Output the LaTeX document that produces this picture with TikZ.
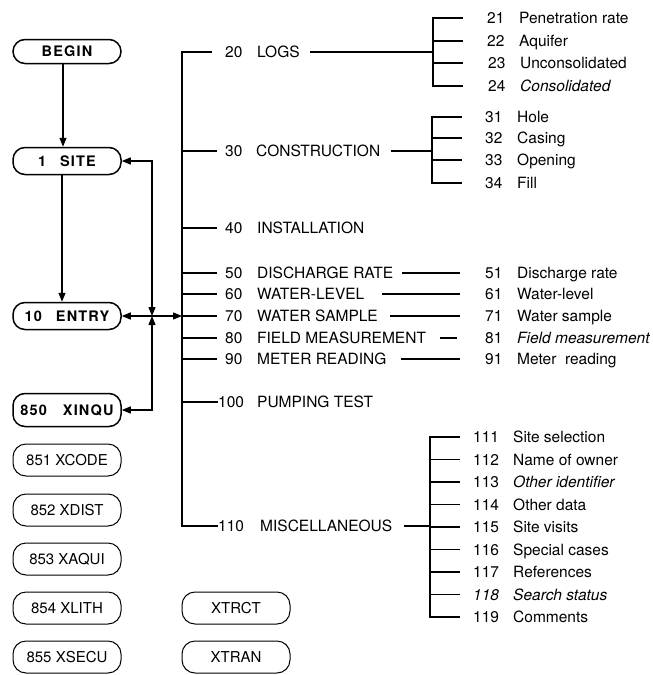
\documentclass[tikz,border=0pt]{standalone}
\usepackage{fontspec}
\setmainfont{TeX Gyre Heros}
\usetikzlibrary{arrows.meta}
\begin{document}
\begin{tikzpicture}[x=1pt,y=-1pt,
  >={Triangle[length=9pt,width=7pt]},
  txt/.style={font=\fontsize{15.5}{17}\selectfont, inner sep=0pt, anchor=west, text height=11pt, text depth=0pt},
  itx/.style={txt, font=\fontsize{15.5}{17}\selectfont\itshape},
  boxA/.style={draw, line width=1.5pt, rounded corners=12pt, minimum width=108pt, inner sep=0pt, font=\fontsize{14.5}{16}\selectfont\bfseries\addfontfeatures{LetterSpace=8}},
  boxB/.style={draw, line width=1pt, rounded corners=13pt, minimum width=108pt, minimum height=32pt, inner sep=0pt, font=\fontsize{15}{17}\selectfont},
  ln/.style={line width=1.2pt},
  bus/.style={line width=1.5pt},
  arr/.style={line width=1.3pt, ->},
  darr/.style={line width=1.3pt, <->},
]
\useasboundingbox (0,0) rectangle (653,675);

% ---- left column boxes
\node[boxA, minimum height=24pt] (begin) at (67,51.5) {BEGIN};
\node[boxA, minimum height=27pt] (site) at (67,161) {1\hspace{14pt}SITE};
\node[boxA, minimum height=27pt] (entry) at (67,316) {10\hspace{14pt}ENTRY};
\node[boxA, minimum height=33pt] (xinqu) at (67,410) {850\hspace{16pt}XINQU};
\node[boxB] (xcode) at (67,460) {851 XCODE};
\node[boxB] (xdist) at (67,510) {852 XDIST};
\node[boxB] (xaqui) at (67,559) {853 XAQUI};
\node[boxB] (xlith) at (67,608) {854 XLITH};
\node[boxB] (xsecu) at (67,657) {855 XSECU};
\node[boxB] (xtrct) at (236,608) {XTRCT};
\node[boxB] (xtran) at (236,657) {XTRAN};

% ---- main items
\node[txt] (n20) at (225,52) {20};   \node[txt] (t20) at (257,52) {LOGS};
\node[txt] (n30) at (225,151) {30};  \node[txt] (t30) at (256,151) {CONSTRUCTION};
\node[txt] (n40) at (225,228) {40};  \node[txt] (t40) at (257,228) {INSTALLATION};
\node[txt] (n50) at (225,273) {50};  \node[txt] (t50) at (257,273) {DISCHARGE RATE};
\node[txt] (n60) at (225,294) {60};  \node[txt] (t60) at (257,294) {WATER-LEVEL};
\node[txt] (n70) at (225,316) {70};  \node[txt] (t70) at (257,316) {WATER SAMPLE};
\node[txt] (n80) at (225,338) {80};  \node[txt] (t80) at (257,338) {FIELD MEASUREMENT};
\node[txt] (n90) at (225,359) {90};  \node[txt] (t90) at (257,359) {METER READING};
\node[txt] (n100) at (218,402) {100}; \node[txt] (t100) at (257,402) {PUMPING TEST};
\node[txt] (n110) at (218,526) {110}; \node[txt] (t110) at (260,526) {MISCELLANEOUS};

\foreach \k/\y in {20/52,30/151,40/228,50/273,60/294,70/316,80/338,90/359,100/402,110/526}
  {\coordinate (b\k) at (182,\y);}

\draw[bus] ([xshift=-13pt]n20.west) -- (b20) -- (b110) -- (n110.west);
\foreach \k in {30,40,50,60,70,80,90}
  {\draw[ln] (b\k) -- ([xshift=-8pt]n\k.west);}
\draw[ln] (b100) -- (n100.west);

% ---- arrows on the left
\draw[arr] ([xshift=-4pt]begin.south) -- ([xshift=-4pt]site.north);
\draw[arr] ([xshift=-5pt]site.south) -- ([xshift=-5pt]entry.north);
\coordinate (j) at (152,316);
\draw[darr] (j) |- (site.east);
\draw[darr] (j) |- (xinqu.east);
\draw[darr] (entry.east) -- (b70);

% ---- LOGS sub-items
\node[txt] (n21) at (487,18) {21}; \node[txt] (t21) at (519,18) {Penetration rate};
\node[txt] (n22) at (487,41) {22}; \node[txt] (t22) at (519,41) {Aquifer};
\node[txt] (n23) at (488,63) {23}; \node[txt] (t23) at (520,63) {Unconsolidated};
\node[txt] (n24) at (488,86) {24}; \node[itx] (t24) at (520,86) {Consolidated};
\coordinate (cL) at (433,52);
\foreach \k/\y in {21/18,22/41,23/63,24/86} {\coordinate (c\k) at (433,\y);}
\draw[ln] ([xshift=10pt]t20.east) -- (cL);
\draw[ln] ([xshift=-24pt]n21.west) -- (c21) -- (c24) -- ([xshift=-25pt]n24.west);
\draw[ln] (c22) -- ([xshift=-24pt]n22.west);
\draw[ln] (c23) -- ([xshift=-25pt]n23.west);

% ---- CONSTRUCTION sub-items
\node[txt] (n31) at (485,117) {31}; \node[txt] (t31) at (517,117) {Hole};
\node[txt] (n32) at (485,138) {32}; \node[txt] (t32) at (517,138) {Casing};
\node[txt] (n33) at (485,160) {33}; \node[txt] (t33) at (517,160) {Opening};
\node[txt] (n34) at (485,183) {34}; \node[txt] (t34) at (517,183) {Fill};
\coordinate (cC) at (432,151);
\foreach \k/\y in {31/117,32/138,33/160,34/183} {\coordinate (c\k) at (432,\y);}
\draw[ln] ([xshift=11pt]t30.east) -- (cC);
\draw[ln] ([xshift=-23pt]n31.west) -- (c31) -- (c34) -- ([xshift=-23pt]n34.west);
\draw[ln] (c32) -- ([xshift=-23pt]n32.west);
\draw[ln] (c33) -- ([xshift=-23pt]n33.west);

% ---- single sub-items
\node[txt] (n51) at (485,273) {51}; \node[txt] (t51) at (517,273) {Discharge rate};
\node[txt] (n61) at (485,294) {61}; \node[txt] (t61) at (517,294) {Water-level};
\node[txt] (n71) at (485,316) {71}; \node[txt] (t71) at (517,316) {Water sample};
\node[txt] (n81) at (485,338) {81}; \node[itx] (t81) at (517,338) {Field measurement};
\node[txt] (n91) at (485,359) {91}; \node[txt] (t91) at (517,359) {Meter\ \ reading};
\draw[ln] ([xshift=9pt]t50.east) -- ([xshift=-25pt]n51.west);
\draw[ln] ([xshift=17pt]t60.east) -- ([xshift=-25pt]n61.west);
\draw[ln] ([xshift=12pt]t70.east) -- ([xshift=-25pt]n71.west);
\draw[ln] ([xshift=14pt]t80.east) -- ([xshift=-28pt]n81.west);
\draw[ln] ([xshift=14pt]t90.east) -- ([xshift=-25pt]n91.west);

% ---- MISCELLANEOUS sub-items
\foreach \k/\y/\t in {111/437/Site selection,112/459.5/Name of owner,114/504.5/Other data,115/527/Site visits,116/549.5/Special cases,117/572/References,119/617/Comments}
  {\node[txt] (n\k) at (473,\y) {\k}; \node[txt] (t\k) at (513,\y) {\t};}
\node[txt] (n113) at (473,482) {113}; \node[itx] (t113) at (513,482) {Other identifier};
\node[itx] (n118) at (473,594.5) {118}; \node[itx] (t118) at (513,594.5) {Search status};
\foreach \k/\y in {111/437,112/459.5,113/482,114/504.5,115/527,116/549.5,117/572,118/594.5,119/617}
  {\coordinate (c\k) at (430,\y);}
\coordinate (cM) at (430,526);
\draw[ln] ([xshift=12pt]t110.east) -- (cM);
\draw[ln] ([xshift=-13pt]n111.west) -- (c111) -- (c119) -- ([xshift=-13pt]n119.west);
\foreach \k in {112,113,114,115,116,117,118}
  {\draw[ln] (c\k) -- ([xshift=-13pt]n\k.west);}
\end{tikzpicture}
\end{document}
